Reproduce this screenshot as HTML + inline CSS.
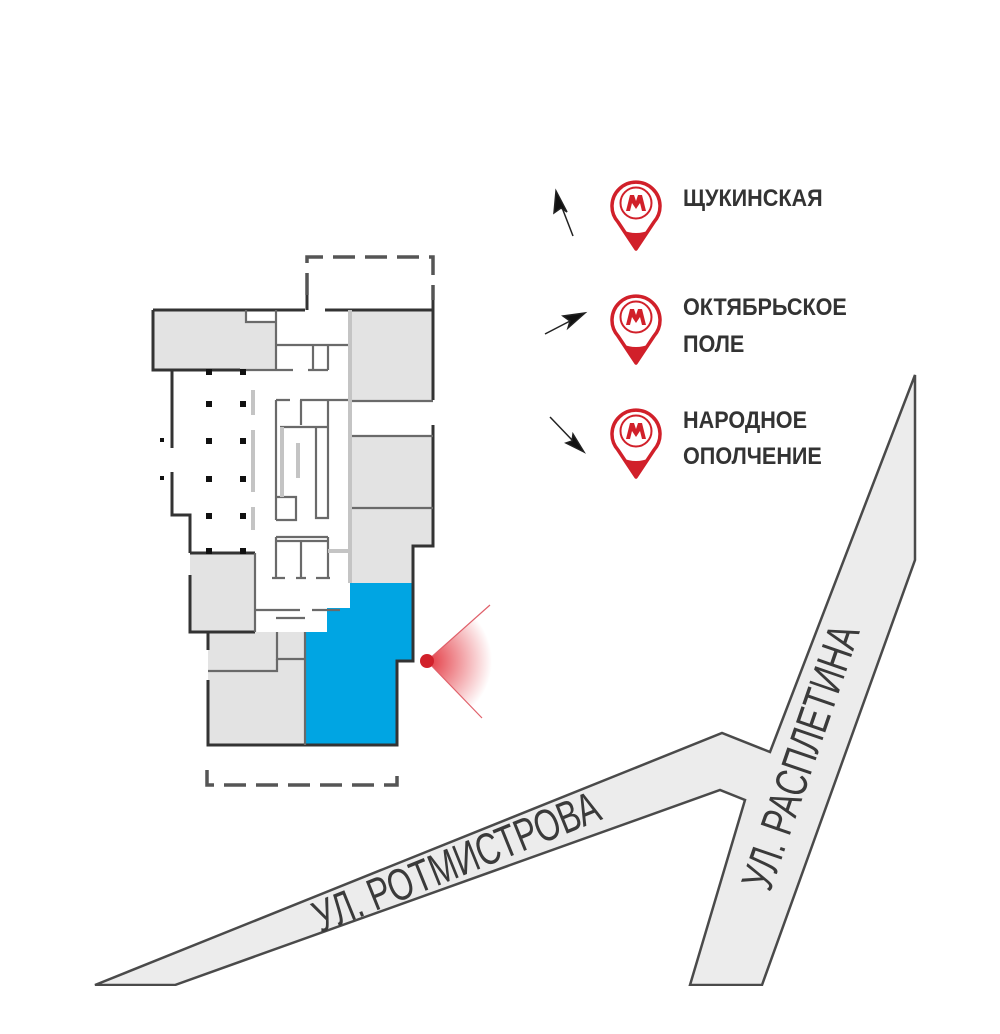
<!DOCTYPE html>
<html><head><meta charset="utf-8"><style>
html,body{margin:0;padding:0;background:#fff;}
svg{display:block;}
text{font-family:"Liberation Sans",sans-serif;}
</style></head><body>
<svg width="1000" height="1034" viewBox="0 0 1000 1034" xmlns="http://www.w3.org/2000/svg">
<defs>
<radialGradient id="fan" cx="427" cy="661" r="65" gradientUnits="userSpaceOnUse">
<stop offset="0" stop-color="#e0202a" stop-opacity="0.9"/>
<stop offset="1" stop-color="#e0202a" stop-opacity="0"/>
</radialGradient>
<g id="pin">
<path d="M0,46 L-18,19 A24,24 0 1 1 18,19 Z" fill="#fff" stroke="#d1202a" stroke-width="3.5" stroke-linejoin="round"/>
<path d="M0,46 L-14,27 Q0,33 14,27 Z" fill="#d1202a"/>
<circle cx="0" cy="0" r="15.5" fill="#fff" stroke="#d1202a" stroke-width="2"/>
<path d="M-10,8 L-6,-8 L-2,-8 L0,-2 L2,-8 L6,-8 L10,8 L6,8 L4,0 L0,6 L-4,0 L-6,8 Z" fill="#d1202a"/>
</g>
</defs>

<!-- roads -->
<path d="M95,985 L722,733 L770,752 L915,375 L915,560 L762,985 L690,985 L745,800 L720,790 L175,985 Z" fill="#ececec" stroke="#4a4a4a" stroke-width="2.5" stroke-linejoin="miter"/>
<rect x="0" y="986" width="1000" height="48" fill="#fff"/>
<text x="0" y="0" transform="translate(462,876) rotate(-22) scale(0.72,1)" text-anchor="middle" font-size="45" fill="#3a3a3a">УЛ. РОТМИСТРОВА</text>
<text x="0" y="0" transform="translate(815,762) rotate(-71) scale(0.72,1)" text-anchor="middle" font-size="45" fill="#3a3a3a">УЛ. РАСПЛЕТИНА</text>

<!-- building gray blocks -->
<g fill="#e3e3e3">
<rect x="153" y="310" width="124" height="60"/>
<rect x="190" y="553" width="65" height="79"/>
<rect x="208" y="632" width="97" height="113"/>
<rect x="350" y="310" width="83" height="91"/>
<rect x="350" y="436" width="83" height="72"/>
<path d="M350,508 L433,508 L433,546 L413,546 L413,583 L350,583 Z"/>
</g>
<rect x="246" y="310" width="31" height="12" fill="#fff"/>
<path d="M350,583 L413,583 L413,661 L397,661 L397,745 L305,745 L305,632 L327,632 L327,608 L350,608 Z" fill="#00a5e3"/>

<!-- walls dark -->
<g stroke="#333" stroke-width="3" fill="none">
<path d="M153,310 L153,370 L172,370 L172,448"/>
<path d="M172,472 L172,515 L190,515 L190,553"/>
<path d="M190,553 L255,553"/>
<path d="M255,632 L190,632 L190,575"/>
<path d="M208,632 L208,650"/>
<path d="M208,680 L208,745 L397,745 L397,661 L413,661 L413,583"/>
<path d="M413,583 L413,546 L433,546 L433,425"/>
<path d="M433,400 L433,300"/>
<path d="M153,310 L305,310 M325,310 L433,310"/>
<path d="M307,310 L307,295"/>
<path d="M172,370 L240,370"/>
</g>
<!-- dashed outlines -->
<g stroke="#555" stroke-width="3.5" fill="none" stroke-dasharray="22,10">
<path d="M307,295 L307,257 L433,257 L433,300"/>
<path d="M207,770 L207,785 L397,785 L397,770"/>
</g>
<!-- interior walls grey -->
<g stroke="#6a6a6a" stroke-width="2.2" fill="none">
<path d="M276,310 L276,370"/>
<path d="M246,310 L246,322 L276,322"/>
<path d="M276,345 L350,345"/>
<path d="M313,345 L313,370 M328,345 L328,370"/>
<path d="M240,370 L293,370 M308,370 L328,370"/>
<path d="M276,400 L276,520 M276,400 L290,400 M300,400 L350,400"/>
<path d="M301,400 L301,425 M280,427 L328,427"/>
<path d="M276,497 L296,497 L296,520 L276,520"/>
<path d="M316,427 L316,518 L328,518 L328,400"/>
<path d="M276,537 L328,537 M276,541 L328,541 M276,537 L276,578 M301,541 L301,578 M328,537 L328,578"/>
<path d="M272,578 L285,578 M296,578 L306,578 M316,578 L330,578"/>
<path d="M256,610 L300,610 M312,610 L340,610"/>
<path d="M276,618 L305,618 M277,632 L277,659 L305,659"/>
<path d="M208,671 L277,671 L277,659"/>
<path d="M350,401 L433,401 M350,436 L433,436 M350,508 L433,508"/>
<path d="M305,632 L305,745"/>
<path d="M255,553 L255,632"/>
</g>
<g stroke="#c4c4c4" stroke-width="4" fill="none">
<path d="M350,310 L350,583"/>
<path d="M253,390 L253,415 M253,430 L253,492 M253,507 L253,530"/>
<path d="M282,427 L282,497 M298,443 L298,478"/>
<path d="M328,551 L350,551"/>
</g>
<!-- columns -->
<g fill="#111">
<rect x="206" y="369" width="6" height="6"/><rect x="240" y="369" width="6" height="6"/>
<rect x="206" y="401" width="6" height="6"/><rect x="240" y="401" width="6" height="6"/>
<rect x="206" y="438" width="6" height="6"/><rect x="240" y="438" width="6" height="6"/>
<rect x="206" y="476" width="6" height="6"/><rect x="240" y="476" width="6" height="6"/>
<rect x="206" y="513" width="6" height="6"/><rect x="240" y="513" width="6" height="6"/>
<rect x="206" y="548" width="6" height="6"/><rect x="240" y="548" width="6" height="6"/>
<rect x="160" y="438" width="4" height="4"/><rect x="160" y="476" width="4" height="4"/>
</g>

<!-- camera -->
<path d="M427,661 L490,605 A84,84 0 0 1 482,718 Z" fill="url(#fan)"/>
<path d="M427,661 L490,605 M427,661 L482,718" stroke="#e0606a" stroke-width="1.2"/>
<circle cx="427" cy="661" r="7" fill="#d1202a"/>

<!-- metro -->
<use href="#pin" x="636" y="203"/>
<use href="#pin" x="636" y="317"/>
<use href="#pin" x="636" y="431"/>
<g font-size="24" font-weight="bold" fill="#333">
<text transform="translate(683,206) scale(0.9,1)">ЩУКИНСКАЯ</text>
<text transform="translate(683,315) scale(0.9,1)">ОКТЯБРЬСКОЕ</text>
<text transform="translate(683,352) scale(0.9,1)">ПОЛЕ</text>
<text transform="translate(683,428) scale(0.9,1)">НАРОДНОЕ</text>
<text transform="translate(683,464) scale(0.9,1)">ОПОЛЧЕНИЕ</text>
</g>
<!-- arrows -->
<g stroke="#222" stroke-width="1.5" fill="#111">
<line x1="573" y1="236" x2="561" y2="205"/>
<path d="M556,191 L567,212 L561,208 L554,213 Z"/>
<line x1="545" y1="334" x2="572" y2="320"/>
<path d="M585,313 L568,328 L570,321 L563,316 Z"/>
<line x1="550" y1="417" x2="573" y2="441"/>
<path d="M584,452 L566,443 L572,441 L573,434 Z"/>
</g>
</svg>
</body></html>
